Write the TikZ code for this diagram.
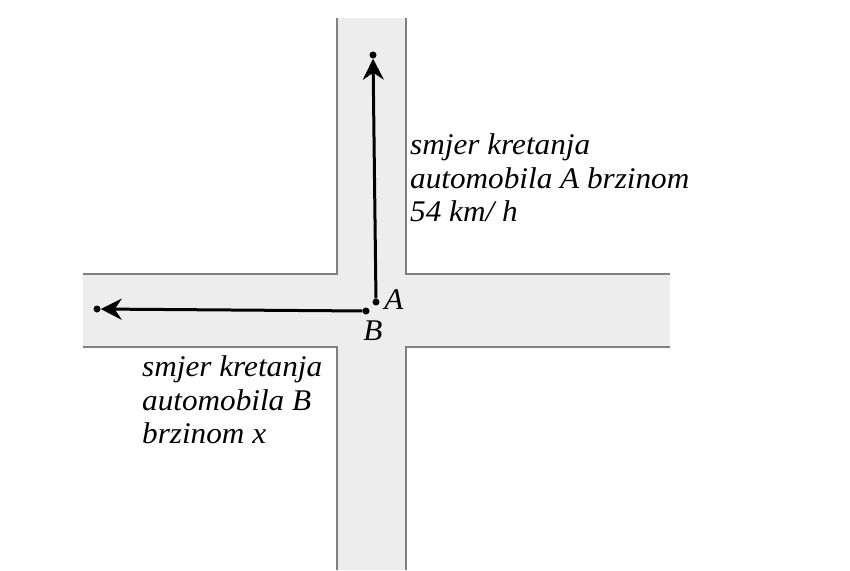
\documentclass[tikz,border=0pt]{standalone}
\usepackage{fontspec}
\setmainfont{Liberation Serif}
\newfontfamily\diagfont[FakeStretch=1.04]{Liberation Serif}
\usetikzlibrary{arrows.meta}
\begin{document}
\begin{tikzpicture}[x=1pt,y=-1pt,
  road/.style={fill=black!7,draw=none},
  edge/.style={draw=black!50,line width=1.6pt},
  motion/.style={draw=black,line width=3pt,-{Stealth[length=21pt,width=21pt,inset=7pt]}},
  dotpt/.style={circle,fill=black,inner sep=0pt,minimum size=7pt},
  lbl/.style={font=\diagfont\itshape\fontsize{30}{33}\selectfont,inner sep=0pt},
  txt/.style={font=\diagfont\itshape\fontsize{30}{33.5}\selectfont,align=left,anchor=north west,inner sep=0pt}]
\useasboundingbox (0,0) rectangle (850,570);
\fill[white] (0,0) rectangle (850,570);
% roads
\path[road] (337,18) rectangle (406,570);
\path[road] (83,274) rectangle (670,347);
% edges
\draw[edge] (337,18) -- (337,274) -- (83,274);
\draw[edge] (406,18) -- (406,274) -- (670,274);
\draw[edge] (83,347) -- (337,347) -- (337,570);
\draw[edge] (670,347) -- (406,347) -- (406,570);
% points
\node[dotpt] (A) at (376,302) {};
\node[dotpt] (B) at (366,311) {};
\node[dotpt] (At) at (373,55) {};
\node[dotpt] (Bt) at (97,309) {};
\draw[motion] (A) -- (At);
\draw[motion] (B) -- (Bt);
\node[lbl] (la) at (394,300) {A};
\node[lbl] (lb) at (373,331) {B};
\node[txt] (ta) at (410,133.5) {smjer kretanja\\automobila A brzinom\\54 km/ h};
\node[txt] (tb) at (142,355.5) {smjer kretanja\\automobila B\\brzinom x};
\end{tikzpicture}
\end{document}
